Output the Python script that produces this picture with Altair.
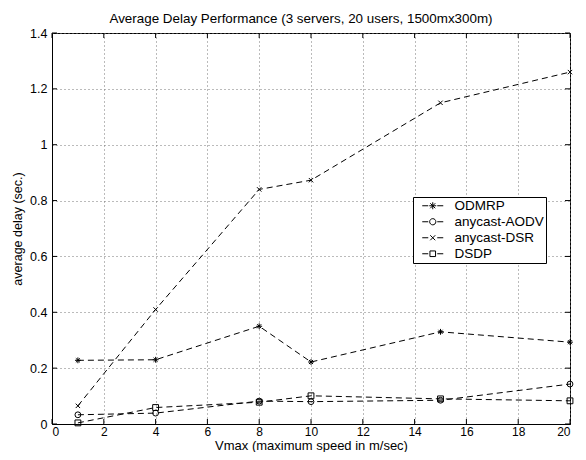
import altair as alt
import pandas as pd

x_vals = [1, 4, 8, 10, 15, 20]
odmrp = [0.228, 0.230, 0.350, 0.222, 0.330, 0.293]
aodv = [0.033, 0.039, 0.082, 0.080, 0.085, 0.143]
dsr = [0.065, 0.410, 0.840, 0.873, 1.150, 1.260]
dsdp = [0.004, 0.059, 0.078, 0.101, 0.090, 0.083]
series_names = ["ODMRP", "anycast-AODV", "anycast-DSR", "DSDP"]
x_ticks = [0, 2, 4, 6, 8, 10, 12, 14, 16, 18, 20]
y_ticks = [0, 0.2, 0.4, 0.6, 0.8, 1.0, 1.2, 1.4]

rows = []
for name, vals in zip(series_names, [odmrp, aodv, dsr, dsdp]):
    for xv, yv in zip(x_vals, vals):
        rows.append({"x": xv, "y": yv, "series": name})
df = pd.DataFrame(rows)
xt = pd.DataFrame({"t": x_ticks})
yt = pd.DataFrame({"t": y_ticks})

FONT = "Liberation Sans"
W, H = 518, 391

asterisk = "M-1,0L1,0M0,-1L0,1M-0.7,-0.7L0.7,0.7M-0.7,0.7L0.7,-0.7"
xmark = "M-0.75,-0.75L0.75,0.75M-0.75,0.75L0.75,-0.75"

# legend glyphs: dash - marker - dash (drawn in a box wider than the unit square)
dash = "M-2.1,0L-0.9,0M0.9,0L2.1,0"
leg_ast = dash + "M-0.7,0L0.7,0M0,-0.7L0,0.7M-0.5,-0.5L0.5,0.5M-0.5,0.5L0.5,-0.5"
leg_circ = dash + "M0.62,0A0.62,0.62,0,1,1,-0.62,0A0.62,0.62,0,1,1,0.62,0"
leg_x = dash + "M-0.5,-0.5L0.5,0.5M-0.5,0.5L0.5,-0.5"
leg_sq = dash + "M-0.56,-0.56L0.56,-0.56L0.56,0.56L-0.56,0.56Z"

xscale = alt.Scale(domain=[0, 20], nice=False, zero=False)
yscale = alt.Scale(domain=[0, 1.4], nice=False)

common_axis = dict(grid=True, gridDash=[1, 3], gridColor="#777", tickSize=0,
                   labelFont=FONT, labelColor="black",
                   titleFont=FONT, titleFontWeight="normal",
                   titleColor="black", domainColor="black", domainWidth=1)

xaxis = alt.Axis(values=x_ticks, title="Vmax (maximum speed in m/sec)",
                 labelPadding=2, labelFontSize=12, titleFontSize=13, titleY=25,
                 titleBaseline="alphabetic", format="d", **common_axis)
yaxis = alt.Axis(values=y_ticks, title="average delay (sec.)", labelPadding=5,
                 labelFontSize=12.5, titlePadding=5, titleFontSize=12.5,
                 labelExpr="datum.value == 1 ? '1' : datum.value == 0 ? '0' : format(datum.value, '.1f')",
                 **common_axis)

lines = alt.Chart(df).mark_line(color="black", strokeWidth=1, strokeDash=[6, 4]).encode(
    x=alt.X("x:Q", scale=xscale, axis=xaxis),
    y=alt.Y("y:Q", scale=yscale, axis=yaxis),
    detail="series:N",
)

points = alt.Chart(df).mark_point(filled=False, color="black", strokeWidth=1, size=34, opacity=1).encode(
    x=alt.X("x:Q", scale=xscale),
    y=alt.Y("y:Q", scale=yscale),
    shape=alt.Shape("series:N",
                    scale=alt.Scale(domain=series_names, range=[asterisk, "circle", xmark, "square"]),
                    legend=None),
)

legend_layer = alt.Chart(df).mark_point(filled=False, color="black", strokeWidth=1, size=100, opacity=0).encode(
    x=alt.X("x:Q", scale=xscale),
    y=alt.Y("y:Q", scale=yscale),
    shape=alt.Shape("series:N",
                    scale=alt.Scale(domain=series_names, range=[leg_ast, leg_circ, leg_x, leg_sq]),
                    legend=alt.Legend(title=None, orient="none", legendX=361, legendY=164,
                                      strokeColor="black", fillColor="white", padding=2,
                                      labelFont=FONT, labelFontSize=13.5, labelColor="black",
                                      symbolStrokeColor="black", symbolFillColor="transparent",
                                      symbolStrokeWidth=1, symbolSize=100, symbolOpacity=1,
                                      symbolOffset=11, rowPadding=1, labelOffset=15, offset=0)),
)

bx = alt.Chart(xt).mark_rule(color="black", strokeWidth=1).encode(
    x=alt.X("t:Q", scale=xscale), y=alt.value(H), y2=alt.value(H - 5))
tx = alt.Chart(xt).mark_rule(color="black", strokeWidth=1).encode(
    x=alt.X("t:Q", scale=xscale), y=alt.value(0), y2=alt.value(5))
ly = alt.Chart(yt).mark_rule(color="black", strokeWidth=1).encode(
    y=alt.Y("t:Q", scale=yscale), x=alt.value(0), x2=alt.value(5))
ry = alt.Chart(yt).mark_rule(color="black", strokeWidth=1).encode(
    y=alt.Y("t:Q", scale=yscale), x=alt.value(W), x2=alt.value(W - 5))

chart = alt.layer(bx, tx, ly, ry, lines, points, legend_layer).resolve_scale(
    shape="independent"
).properties(
    width=W, height=H,
    background="white",
    autosize=alt.AutoSizeParams(type="none"),
    padding={"left": 44, "top": 25, "right": 8, "bottom": 28},
    title=alt.TitleParams("Average Delay Performance (3 servers, 20 users, 1500mx300m)",
                          font=FONT, fontSize=13.4, fontWeight="normal", color="black",
                          offset=2, dx=-10),
).configure_view(stroke="black", strokeWidth=1)

chart.save("out.html", embed_options={"renderer": "svg", "actions": False})
